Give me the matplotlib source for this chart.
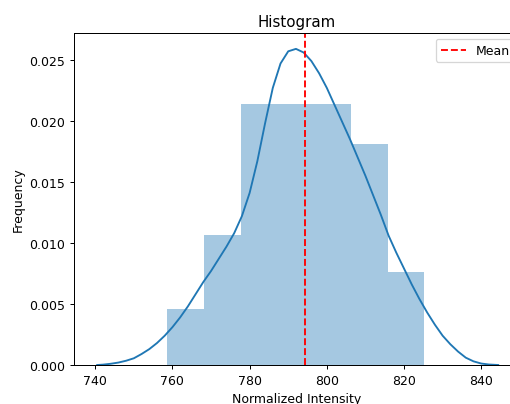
import numpy as np
import matplotlib
matplotlib.use("Agg")
import matplotlib.pyplot as plt

# histogram bins (normalized intensity) and sample counts per bin
bin_edges = [758.7, 768.2, 777.7, 787.2, 796.7, 806.2, 815.8, 825.3]
bin_counts = [3, 7, 14, 14, 14, 12, 5]

# kernel density estimate sampled along the intensity axis
kde_x = [740.5, 742, 744, 746, 748, 750, 752, 754, 756, 758, 760, 762, 764,
         766, 768, 770, 772, 774, 776, 778, 780, 782, 784, 786, 788, 790,
         792, 794, 796, 798, 800, 802, 804, 806, 808, 810, 812, 814, 816,
         818, 820, 822, 824, 826, 828, 830, 832, 834, 836, 838, 840, 842,
         844.4]
kde_y = [0.0, 0.00003, 0.0001, 0.0002, 0.00035, 0.00055, 0.0009, 0.0013,
         0.0018, 0.0024, 0.0031, 0.0039, 0.0048, 0.0058, 0.0068, 0.0077,
         0.0087, 0.0097, 0.0108, 0.0122, 0.0141, 0.0167, 0.0198, 0.0227,
         0.0247, 0.0257, 0.0259, 0.0256, 0.0249, 0.0239, 0.0227, 0.0213,
         0.0199, 0.0185, 0.0170, 0.0155, 0.0139, 0.0123, 0.0106, 0.0092,
         0.0079, 0.0066, 0.0054, 0.0043, 0.0033, 0.0024, 0.0017, 0.0011,
         0.0006, 0.0003, 0.00012, 0.00004, 0.0]

mean_value = 794.4

dpi = 89.8
fig = plt.figure(figsize=(510 / dpi, 405 / dpi), dpi=dpi)
# the plot area runs off the right-hand edge of the canvas
ax = fig.add_axes([74 / 510, 39 / 405, 436 / 510, 332 / 405])
ax.spines['right'].set_visible(False)

edges = np.array(bin_edges)
centers = (edges[:-1] + edges[1:]) / 2
ax.hist(centers, bins=edges, weights=bin_counts, density=True,
        color='C0', alpha=0.4)
ax.plot(kde_x, kde_y, color='C0', linewidth=1.5)
ax.axvline(mean_value, color='red', linestyle='--', linewidth=1.5, label='Mean')

ax.set_xlim(734.5, 734.5 + 436 / 3.86)
ax.set_ylim(0, 0.0272)
ax.set_xticks([740, 760, 780, 800, 820, 840])
# centre of the full (uncropped) plot area
mid = (296.5 - 74) / 436
ax.set_title('Histogram', x=mid)
ax.set_xlabel('Normalized Intensity', x=mid)
ax.set_ylabel('Frequency')
ax.legend(loc='upper left', bbox_to_anchor=((436 - 74) / 436, 1 - 6 / 332),
          borderaxespad=0)

fig.savefig('out.png', dpi=dpi)
